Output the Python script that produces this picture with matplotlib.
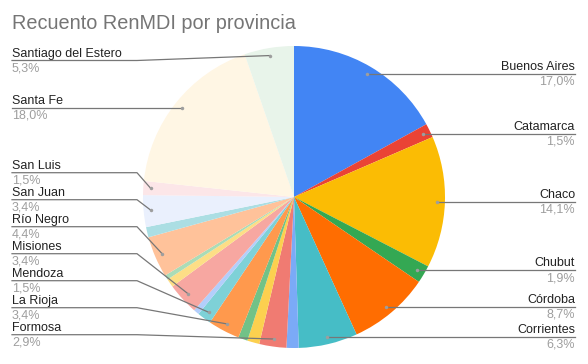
import matplotlib
matplotlib.use("Agg")
import matplotlib.pyplot as plt
import numpy as np

# ---- data (percent shares, in slice order, clockwise from 12 o'clock) ----
provinces = ["Buenos Aires", "Catamarca", "Chaco", "Chubut", "Córdoba", "Corrientes",
             "Entre Ríos", "Formosa", "Jujuy", "La Pampa", "La Rioja", "Mendoza",
             "Otra A", "Misiones", "Neuquén", "Otra B", "Río Negro", "Salta",
             "San Juan", "San Luis", "Santa Fe", "Santiago del Estero"]
shares = [17.0, 1.5, 14.1, 1.9, 8.7, 6.3,
          1.3, 2.9, 1.3, 1.0, 3.4, 1.5,
          0.6, 3.4, 0.9, 0.5, 4.4, 1.1,
          3.4, 1.5, 18.0, 5.3]
colors = ["#4285F4", "#EA4335", "#FBBC04", "#34A853", "#FF6D01", "#46BDC6",
          "#7BAAF7", "#F07B72", "#FCD04F", "#71C287", "#FF994D", "#7ED1D7",
          "#B3CEFB", "#F7A7A1", "#FDDE86", "#AADCB7", "#FFC29A", "#ABDEE3",
          "#EAF0FD", "#FCE6E8", "#FFF6E4", "#E8F4EA"]

right_labels = ["Buenos Aires", "Catamarca", "Chaco", "Chubut", "Córdoba", "Corrientes"]
left_labels = ["Santiago del Estero", "Santa Fe", "San Luis", "San Juan", "Río Negro",
               "Misiones", "Mendoza", "La Rioja", "Formosa"]
# layout: y of the underline for left-side labels (pixels from top)
left_line_y = [60.5, 108, 172.7, 199.7, 226.7, 253.7, 280.7, 307.7, 334.7]

W, H = 588, 364
fig = plt.figure(figsize=(W / 100, H / 100), dpi=100)
ax = fig.add_axes([0, 0, 1, 1])

cx, cy, R = 294, 197, 151
wedges, _ = ax.pie(shares, colors=colors, startangle=-90, counterclock=True,
                   center=(cx, cy), radius=R, wedgeprops=dict(linewidth=0))
ax.set_xlim(0, W)
ax.set_ylim(H, 0)
ax.set_aspect("auto")
ax.axis("off")

FONT = "Liberation Sans"
name_c = "#222222"
pct_c = "#9E9E9E"
line_c = "#777777"
dot_c = "#9E9E9E"
fs = 9

def dot_pos(i):
    w = wedges[i]
    mid = np.deg2rad((w.theta1 + w.theta2) / 2)
    return cx + 0.95 * R * np.cos(mid), cy + 0.95 * R * np.sin(mid)

def pct(v):
    return f"{v:.1f}".replace(".", ",") + "%"

# right labels
xr = 575
for name in right_labels:
    i = provinces.index(name)
    dx, dy = dot_pos(i)
    ax.plot([dx, xr], [dy, dy], color=line_c, lw=0.9, zorder=3)
    ax.plot(dx, dy, "o", ms=2.5, color=dot_c, mec="none", zorder=4)
    ax.text(xr, dy - 4, name, ha="right", va="baseline", fontsize=fs,
            color=name_c, family=FONT)
    ax.text(xr, dy + 11, pct(shares[i]), ha="right", va="baseline", fontsize=fs,
            color=pct_c, family=FONT)

# left labels
xl = 12
elbow = 137
for name, ly in zip(left_labels, left_line_y):
    i = provinces.index(name)
    dx, dy = dot_pos(i)
    ex = min(elbow, dx) if abs(ly - dy) > 2 else dx
    ax.plot([xl, ex, dx], [ly, ly, dy], color=line_c, lw=0.9, zorder=3)
    ax.plot(dx, dy, "o", ms=2.5, color=dot_c, mec="none", zorder=4)
    ax.text(xl, ly - 3.7, name, ha="left", va="baseline", fontsize=fs,
            color=name_c, family=FONT)
    ax.text(xl, ly + 10.6, pct(shares[i]), ha="left", va="baseline", fontsize=fs,
            color=pct_c, family=FONT)

ax.text(12, 29, "Recuento RenMDI por provincia", ha="left", va="baseline",
        fontsize=14.3, color="#757575", family=FONT)

fig.savefig("out.png", dpi=100, facecolor="white")
